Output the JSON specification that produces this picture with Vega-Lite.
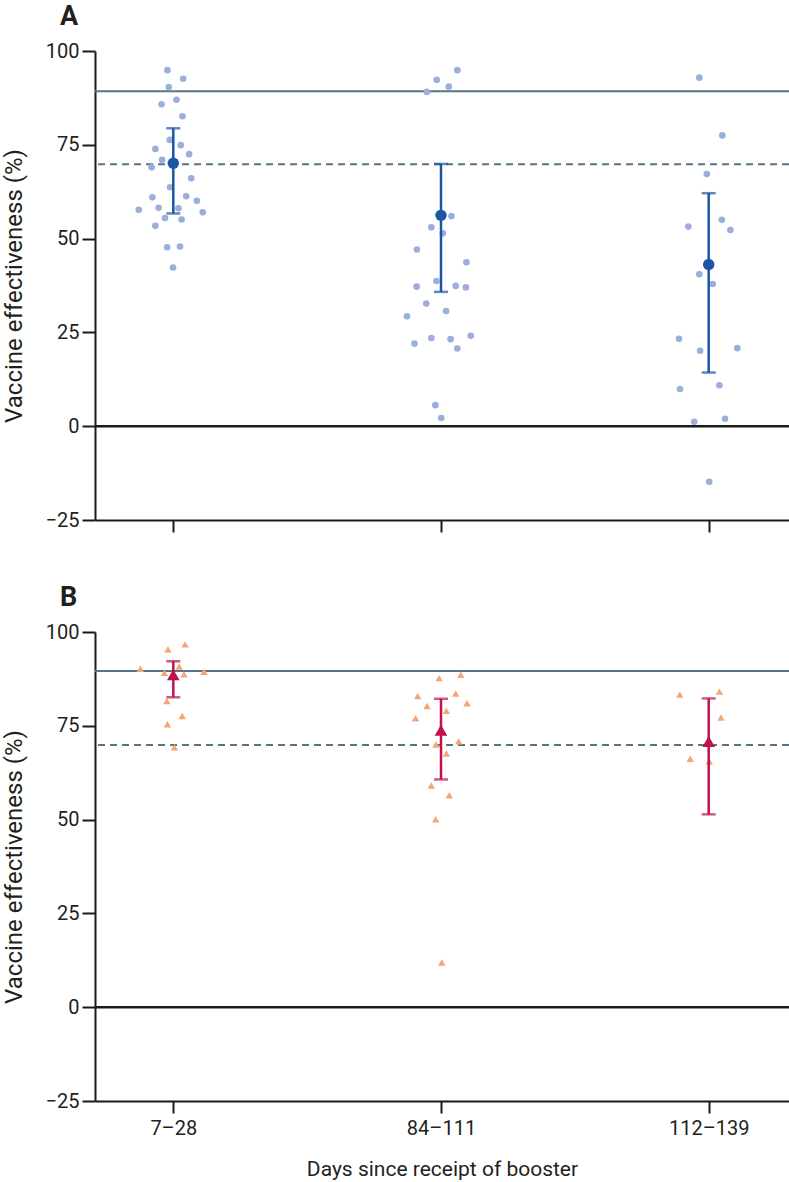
{
  "$schema": "https://vega.github.io/schema/vega-lite/v6.json",
  "background": "white",
  "padding": {"left": 2, "right": 0, "top": 3, "bottom": 2},
  "spacing": 112,
  "bounds": "flush",
  "datasets": {
    "a_pts": [
      {"x":0.978,"v":94.9},{"x":1.037,"v":92.6},{"x":0.983,"v":90.4},{"x":1.012,"v":87.0},{"x":0.956,"v":85.8},{"x":1.034,"v":82.6},{"x":0.987,"v":76.3},{"x":1.028,"v":74.9},{"x":0.933,"v":73.9},{"x":1.059,"v":72.5},{"x":0.958,"v":71.0},{"x":0.919,"v":69.0},{"x":1.067,"v":66.1},{"x":0.988,"v":63.7},{"x":0.922,"v":61.0},{"x":1.048,"v":61.3},{"x":1.088,"v":60.1},{"x":0.871,"v":57.7},{"x":0.945,"v":58.2},{"x":1.019,"v":58.1},{"x":1.110,"v":57.0},{"x":0.969,"v":55.5},{"x":1.031,"v":55.1},{"x":0.933,"v":53.4},{"x":0.977,"v":47.7},{"x":1.025,"v":47.9},{"x":0.999,"v":42.3},
      {"x":2.061,"v":94.9},{"x":1.984,"v":92.3},{"x":2.029,"v":90.5},{"x":1.947,"v":89.1},{"x":2.039,"v":56.0},{"x":1.964,"v":53.0},{"x":2.007,"v":51.4},{"x":1.910,"v":47.1},{"x":2.095,"v":43.7},{"x":1.983,"v":38.7},{"x":1.909,"v":37.2},{"x":2.055,"v":37.4},{"x":2.093,"v":37.0},{"x":1.945,"v":32.7},{"x":1.873,"v":29.3},{"x":2.019,"v":30.7},{"x":1.901,"v":22.0},{"x":1.964,"v":23.5},{"x":2.036,"v":23.2},{"x":2.111,"v":24.1},{"x":2.061,"v":20.7},{"x":1.979,"v":5.6},{"x":2.001,"v":2.2},
      {"x":2.965,"v":92.9},{"x":3.051,"v":77.5},{"x":2.993,"v":67.2},{"x":2.924,"v":53.2},{"x":3.049,"v":55.0},{"x":3.081,"v":52.3},{"x":2.965,"v":40.5},{"x":3.015,"v":37.9},{"x":2.889,"v":23.3},{"x":2.968,"v":20.1},{"x":3.107,"v":20.8},{"x":2.893,"v":9.9},{"x":3.040,"v":10.9},{"x":2.946,"v":1.2},{"x":3.061,"v":2.0},{"x":3.002,"v":-14.8}
    ],
    "a_sum": [
      {"x":1,"mean":70.1,"lo":56.7,"hi":79.4},
      {"x":2,"mean":56.2,"lo":35.8,"hi":69.9},
      {"x":3,"mean":43.1,"lo":14.3,"hi":62.1}
    ],
    "a_ref": [
      {"v":89.3,"style":"solid"},
      {"v":69.8,"style":"dashed"}
    ],
    "b_pts": [
      {"x":1.044,"v":96.7},{"x":0.980,"v":95.4},{"x":0.877,"v":90.2},{"x":1.022,"v":90.8},{"x":1.115,"v":89.4},{"x":0.967,"v":89.1},{"x":1.040,"v":88.7},{"x":0.976,"v":81.6},{"x":1.033,"v":77.6},{"x":0.978,"v":75.4},{"x":1.004,"v":69.3},
      {"x":2.074,"v":88.6},{"x":1.993,"v":87.7},{"x":1.913,"v":82.9},{"x":2.055,"v":83.6},{"x":1.948,"v":80.3},{"x":2.097,"v":81.0},{"x":2.020,"v":79.0},{"x":1.905,"v":77.0},{"x":2.066,"v":70.9},{"x":1.981,"v":70.0},{"x":2.020,"v":67.6},{"x":1.964,"v":59.1},{"x":2.031,"v":56.5},{"x":1.980,"v":50.1},{"x":2.003,"v":11.9},
      {"x":2.892,"v":83.3},{"x":3.040,"v":84.1},{"x":3.046,"v":77.2},{"x":2.931,"v":66.2},{"x":3.002,"v":65.5}
    ],
    "b_sum": [
      {"x":1,"mean":88.6,"lo":82.6,"hi":92.2},
      {"x":2,"mean":73.8,"lo":60.7,"hi":82.2},
      {"x":3,"mean":70.8,"lo":51.4,"hi":82.3}
    ],
    "b_ref": [
      {"v":89.6,"style":"solid"},
      {"v":69.9,"style":"dashed"}
    ],
    "zero": [{"v":0}]
  },
  "vconcat": [
    {
      "width": 694,
      "height": 469,
      "title": {"text": "A", "anchor": "start", "frame": "group", "dx": -35, "fontSize": 27, "fontWeight": "bold", "font": "Roboto", "color": "#231f20", "offset": 10},
      "layer": [
        {
          "data": {"name": "a_ref"},
          "mark": {"type": "rule", "color": "#587586", "strokeWidth": 2},
          "encoding": {
            "y": {"field": "v", "type": "quantitative", "scale": {"domain": [-25, 100], "nice": false, "zero": false},
                  "axis": {"values": [-25, 0, 25, 50, 75, 100], "title": "Vaccine effectiveness (%)"}},
            "strokeDash": {"field": "style", "type": "nominal", "scale": {"domain": ["solid", "dashed"], "range": [[1, 0], [7, 5]]}, "legend": null}
          }
        },
        {
          "data": {"name": "zero"},
          "mark": {"type": "rule", "color": "#1a1a1a", "strokeWidth": 2.5},
          "encoding": {"y": {"field": "v", "type": "quantitative"}}
        },
        {
          "data": {"name": "a_pts"},
          "mark": {"type": "circle", "size": 44, "color": "#9caedb", "opacity": 1},
          "encoding": {
            "x": {"field": "x", "type": "quantitative", "scale": {"domain": [0.7075, 3.3], "nice": false, "zero": false},
                  "axis": {"values": [1, 2, 3], "labels": false, "title": null}},
            "y": {"field": "v", "type": "quantitative"}
          }
        },
        {
          "data": {"name": "a_sum"},
          "mark": {"type": "rule", "color": "#1a56a3", "strokeWidth": 2.5},
          "encoding": {
            "x": {"field": "x", "type": "quantitative"},
            "y": {"field": "lo", "type": "quantitative"},
            "y2": {"field": "hi"}
          }
        },
        {
          "data": {"name": "a_sum"},
          "mark": {"type": "tick", "orient": "horizontal", "color": "#1a56a3", "size": 14, "thickness": 2.5},
          "encoding": {
            "x": {"field": "x", "type": "quantitative"},
            "y": {"field": "lo", "type": "quantitative"}
          }
        },
        {
          "data": {"name": "a_sum"},
          "mark": {"type": "tick", "orient": "horizontal", "color": "#1a56a3", "size": 14, "thickness": 2.5},
          "encoding": {
            "x": {"field": "x", "type": "quantitative"},
            "y": {"field": "hi", "type": "quantitative"}
          }
        },
        {
          "data": {"name": "a_sum"},
          "mark": {"type": "circle", "size": 130, "color": "#1a56a3", "opacity": 1},
          "encoding": {
            "x": {"field": "x", "type": "quantitative"},
            "y": {"field": "mean", "type": "quantitative"}
          }
        }
      ]
    },
    {
      "width": 694,
      "height": 469,
      "title": {"text": "B", "anchor": "start", "frame": "group", "dx": -35, "fontSize": 27, "fontWeight": "bold", "font": "Roboto", "color": "#231f20", "offset": 10},
      "layer": [
        {
          "data": {"name": "b_ref"},
          "mark": {"type": "rule", "color": "#587586", "strokeWidth": 2},
          "encoding": {
            "y": {"field": "v", "type": "quantitative", "scale": {"domain": [-25, 100], "nice": false, "zero": false},
                  "axis": {"values": [-25, 0, 25, 50, 75, 100], "title": "Vaccine effectiveness (%)"}},
            "strokeDash": {"field": "style", "type": "nominal", "scale": {"domain": ["solid", "dashed"], "range": [[1, 0], [7, 5]]}, "legend": null}
          }
        },
        {
          "data": {"name": "zero"},
          "mark": {"type": "rule", "color": "#1a1a1a", "strokeWidth": 2.5},
          "encoding": {"y": {"field": "v", "type": "quantitative"}}
        },
        {
          "data": {"name": "b_pts"},
          "mark": {"type": "point", "shape": "triangle-up", "size": 55, "color": "#f4a674", "filled": true, "opacity": 1},
          "encoding": {
            "x": {"field": "x", "type": "quantitative", "scale": {"domain": [0.7075, 3.3], "nice": false, "zero": false},
                  "axis": {"values": [1, 2, 3], "title": "Days since receipt of booster",
                           "labelExpr": "datum.value == 1 ? '7–28' : datum.value == 2 ? '84–111' : '112–139'"}},
            "y": {"field": "v", "type": "quantitative"}
          }
        },
        {
          "data": {"name": "b_sum"},
          "mark": {"type": "rule", "color": "#c0124b", "strokeWidth": 2.5},
          "encoding": {
            "x": {"field": "x", "type": "quantitative"},
            "y": {"field": "lo", "type": "quantitative"},
            "y2": {"field": "hi"}
          }
        },
        {
          "data": {"name": "b_sum"},
          "mark": {"type": "tick", "orient": "horizontal", "color": "#c0124b", "size": 14, "thickness": 2.5},
          "encoding": {
            "x": {"field": "x", "type": "quantitative"},
            "y": {"field": "lo", "type": "quantitative"}
          }
        },
        {
          "data": {"name": "b_sum"},
          "mark": {"type": "tick", "orient": "horizontal", "color": "#c0124b", "size": 14, "thickness": 2.5},
          "encoding": {
            "x": {"field": "x", "type": "quantitative"},
            "y": {"field": "hi", "type": "quantitative"}
          }
        },
        {
          "data": {"name": "b_sum"},
          "mark": {"type": "point", "shape": "triangle-up", "size": 160, "color": "#c0124b", "filled": true, "opacity": 1},
          "encoding": {
            "x": {"field": "x", "type": "quantitative"},
            "y": {"field": "mean", "type": "quantitative"}
          }
        }
      ]
    }
  ],
  "config": {
    "view": {"stroke": null},
    "axis": {
      "grid": false,
      "domainColor": "#1a1a1a",
      "domainWidth": 2,
      "tickColor": "#1a1a1a",
      "tickWidth": 2,
      "tickSize": 12,
      "labelFont": "Roboto",
      "labelFontSize": 20,
      "labelColor": "#231f20",
      "labelPadding": 3,
      "titleFont": "Roboto",
      "titleFontWeight": "normal",
      "titleColor": "#231f20"
    },
    "axisY": {"titlePadding": 19, "tickSize": 13, "titleFontSize": 24},
    "axisX": {"titlePadding": 20, "labelPadding": 5, "titleFontSize": 21}
  }
}
